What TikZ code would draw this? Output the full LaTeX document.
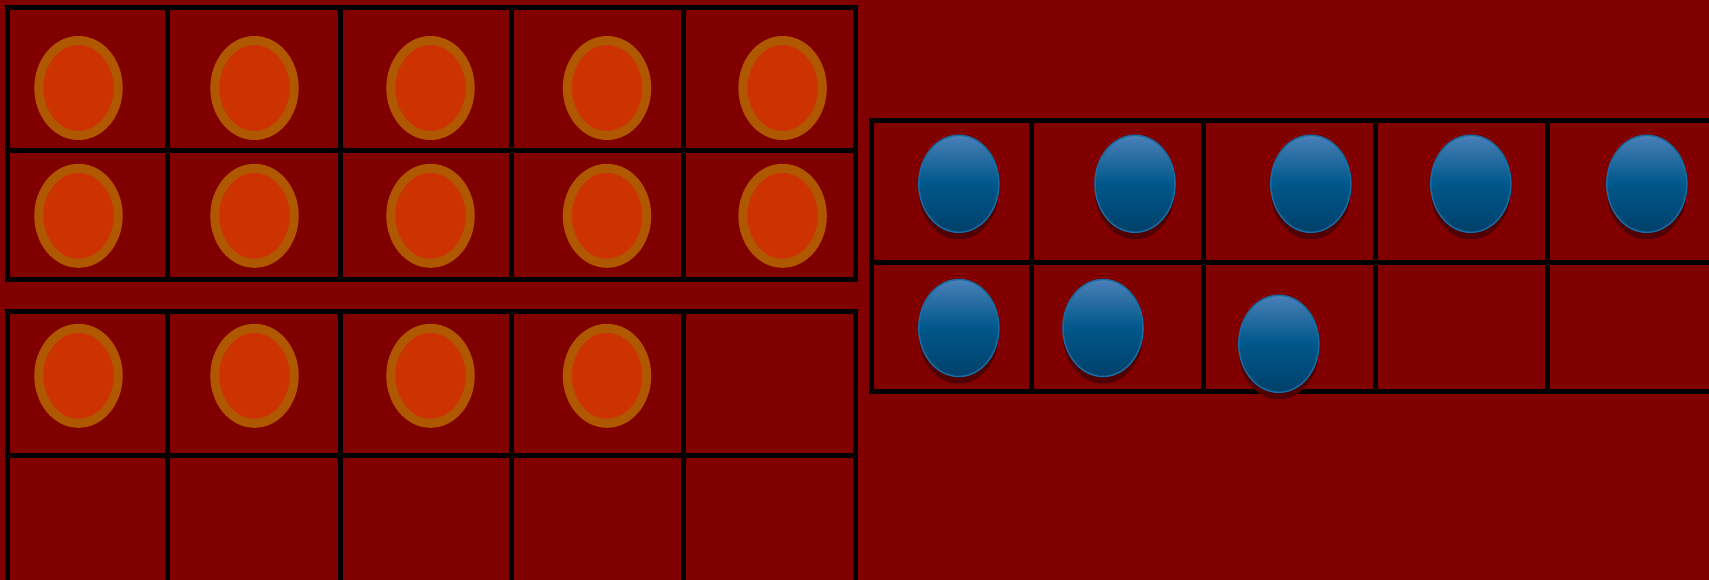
\documentclass[tikz,border=0pt]{standalone}
\usetikzlibrary{calc}
\definecolor{bgred}{RGB}{128,0,0}
\definecolor{chipfill}{RGB}{204,51,0}
\definecolor{chipring}{RGB}{176,88,0}
\definecolor{bluetop}{RGB}{74,128,184}
\definecolor{bluemid}{RGB}{0,87,138}
\definecolor{bluebot}{RGB}{0,64,106}
\definecolor{blueedge}{RGB}{24,108,164}
\definecolor{shadowred}{RGB}{80,0,0}
\tikzset{
  gridline/.style={black,line width=5pt,line cap=rect},
  redchip/.style={fill=chipfill,draw=chipring,line width=9pt},
  bluechip/.style={top color=bluetop,bottom color=bluebot,middle color=bluemid,draw=blueedge,line width=1.5pt},
  chipshadow/.style={fill=shadowred},
}
\begin{document}
\begin{tikzpicture}[x=1pt,y=-1pt]
\fill[bgred] (0,0) rectangle (1709,580);
\useasboundingbox (0,0) rectangle (1709,580);
% top-left grid
\foreach \x in {7,167,340,511,683,855} \draw[gridline] (\x,7.5) -- (\x,280);
\foreach \y in {7.5,150.7,280} \draw[gridline] (7,\y) -- (855,\y);
% bottom-left grid
\foreach \x in {7,167,340,511,683,855} \draw[gridline] (\x,311.7) -- (\x,600);
\foreach \y in {311.7,455} \draw[gridline] (7,\y) -- (855,\y);
% right grid
\foreach \x in {871,1031,1203,1375.5,1547} \draw[gridline] (\x,120.5) -- (\x,391.7);
\foreach \y in {120.5,262.7,391.7} \draw[gridline] (871,\y) -- (1720,\y);
% red chips
\foreach \x in {78.5,254.5,430.5,607,782.6} {
  \draw[redchip] (\x,88) ellipse [x radius=39.7,y radius=47.5];
  \draw[redchip] (\x,215.8) ellipse [x radius=39.7,y radius=47.5];
}
\foreach \x in {78.5,254.5,430.5,607}
  \draw[redchip] (\x,375.8) ellipse [x radius=39.7,y radius=47.5];
% blue chips
\foreach \x/\y in {958.8/183.8,1135/183.8,1310.8/183.8,1470.8/183.8,1646.8/183.8,958.8/328,1103/328,1278.8/343.8} {
  \fill[chipshadow] (\x,\y+7) ellipse [x radius=40,y radius=48.5];
  \draw[bluechip] (\x,\y) ellipse [x radius=40,y radius=48.5];
}
\end{tikzpicture}
\end{document}
